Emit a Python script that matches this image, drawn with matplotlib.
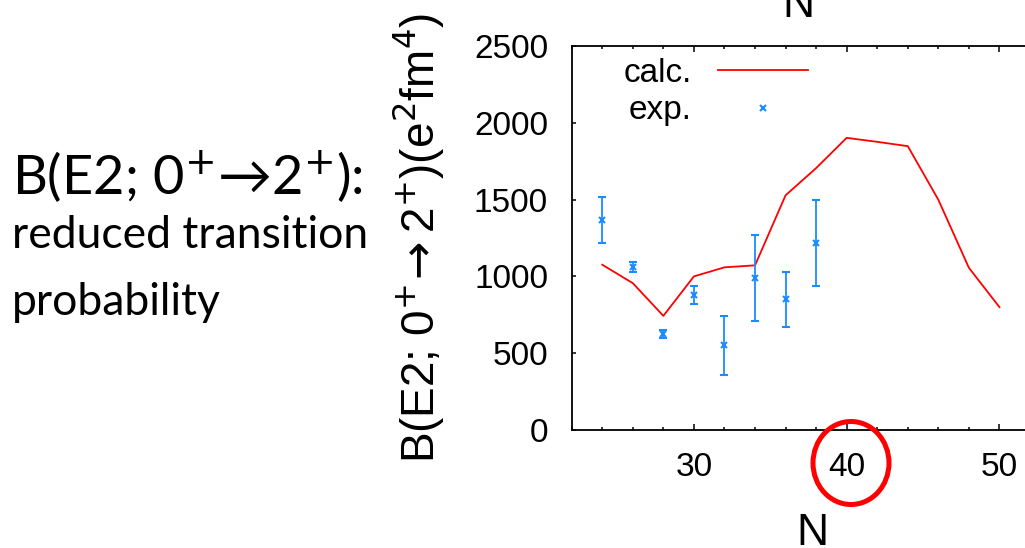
import matplotlib
matplotlib.use('Agg')
import matplotlib.pyplot as plt
from matplotlib.lines import Line2D
from matplotlib.patches import Ellipse
import numpy as np

# datos calculados (linea roja)
N_calc = [24, 26, 28, 30, 32, 34, 36, 38, 40, 42, 44, 46, 48, 50]
B_calc = [1076, 956, 743, 1000, 1059, 1072, 1528, 1705, 1902, 1876, 1848, 1499, 1056, 800]

# datos experimentales con barras de error
N_exp = [24, 26, 28, 30, 32, 34, 36, 38]
B_exp = [1370, 1061, 626, 876, 554, 987, 852, 1217]
B_low = [1217, 1028, 598, 822, 359, 711, 670, 939]
B_high = [1517, 1091, 648, 935, 739, 1272, 1028, 1500]

x_ticks = [30, 40, 50]
y_ticks = [0, 500, 1000, 1500, 2000, 2500]

plt.rcParams['font.family'] = ['Liberation Sans', 'DejaVu Sans']
plt.rcParams['mathtext.fontset'] = 'dejavusans'

W, H = 1025, 548
fig = plt.figure(figsize=(W / 100, H / 100), dpi=100)
ax = fig.add_axes([571.7 / W, (H - 430) / H, (1030 - 571.7) / W, (430 - 46) / H])

blue = '#1a8cff'
red = '#ff0000'

ax.plot(N_calc, B_calc, color=red, lw=1.3)

B_exp = np.array(B_exp)
yerr = [B_exp - np.array(B_low), np.array(B_high) - B_exp]
ax.errorbar(N_exp, B_exp, yerr=yerr, fmt='x', color=blue, ms=5, mew=1.5,
            elinewidth=1.3, capsize=3, capthick=1.3)

ax.set_xlim(22, 52)
ax.set_ylim(0, 2500)
ax.set_xticks(x_ticks)
ax.set_xticks(np.arange(22, 53, 2), minor=True)
ax.set_yticks(y_ticks)

ax.tick_params(axis='x', which='major', direction='in', length=4.3, width=1.1,
               top=True, labelsize=24, pad=16)
ax.tick_params(axis='x', which='minor', direction='in', length=2.2, width=1.1, top=True)
ax.tick_params(axis='y', which='major', direction='in', length=3, width=1.1,
               right=True, labelsize=24, pad=17)
for s in ax.spines.values():
    s.set_linewidth(1.3)

ax.set_ylabel(r'B(E2; 0$^{+}\!\rightarrow$2$^{+}$)(e$^{2}$fm$^{4}$)', fontsize=33, labelpad=20)

# leyenda estilo gnuplot
handles = [Line2D([], [], color=red, lw=1.3),
           Line2D([], [], ls='none', marker='x', color=blue, ms=5, mew=1.5)]
ax.legend(handles, ['calc.', 'exp.'], loc='upper left', bbox_to_anchor=(0.047, 1.048),
          frameon=False, markerfirst=False, fontsize=24, handlelength=2.7,
          labelspacing=0.2, handletextpad=0.8)

# textos exteriores
fig.text(798 / W, (H - 17) / H, 'N', fontsize=32, ha='center', va='baseline')
fig.text(812 / W, 3 / H, 'N', fontsize=32, ha='center', va='baseline')

fam = ['Lato', 'DejaVu Sans']
fig.text(12 / W, (H - 195) / H, 'B(E2; 0$^{+}$→2$^{+}$):', fontsize=39, family=fam, va='baseline')
fig.text(12 / W, (H - 248) / H, 'reduced transition', fontsize=32, family=fam, va='baseline')
fig.text(12 / W, (H - 315) / H, 'probability', fontsize=32, family=fam, va='baseline')

# circulo rojo alrededor de N=40
fig.add_artist(Ellipse((851 / W, (H - 463) / H), 76 / W, 83 / H, transform=fig.transFigure,
                       fill=False, edgecolor=red, lw=3.6, clip_on=False))

fig.savefig('out.png', dpi=100)
